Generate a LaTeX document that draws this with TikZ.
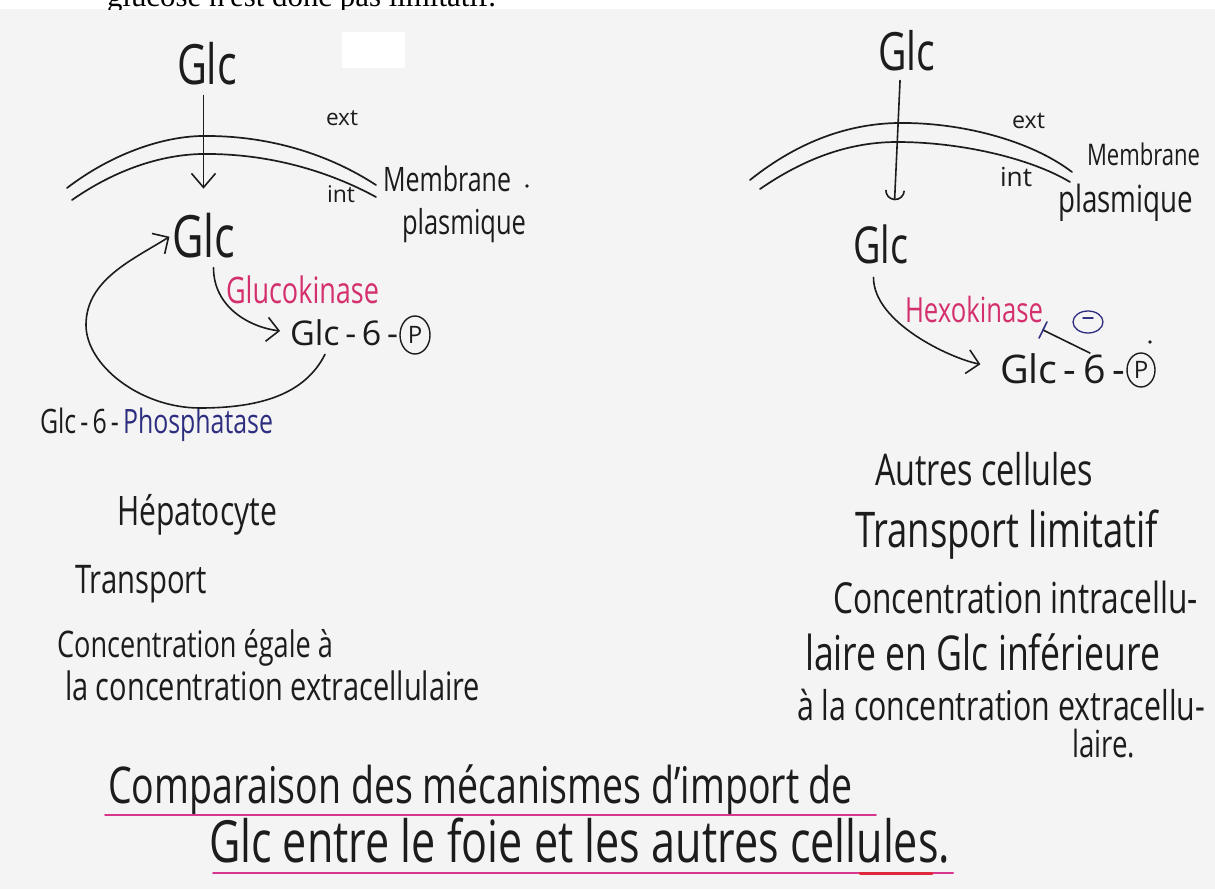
\documentclass[tikz,border=0pt]{standalone}
\usepackage{fontspec}
\usepackage{graphicx}
\setmainfont{Open Sans}
\newfontfamily\printfont{Liberation Serif}
\usetikzlibrary{arrows.meta,shapes.geometric,calc}

\definecolor{paper}{HTML}{F4F4F4}
\definecolor{ink}{HTML}{1C1C1C}
\definecolor{rosy}{HTML}{D4306E}
\definecolor{navyink}{HTML}{2E2E80}
\definecolor{hilite}{HTML}{D8368C}
\definecolor{redmark}{HTML}{E02A3C}

% handwriting-like text: set to a given width (pt), then drawn taller
\newcommand\fitto[2]{\scalebox{1}[1.35]{\resizebox{#1pt}{!}{#2}}}
% plain width fit, no stretch
\newcommand\fitplain[2]{\resizebox{#1pt}{!}{#2}}

\tikzset{
  txt/.style={inner sep=0pt, outer sep=0pt, anchor=base west, text=ink},
  pen/.style={draw=ink, line width=1.6pt, line cap=round, line join=round},
  vhead/.style={pen, -{Straight Barb[length=14pt,width=24pt]}},
  uhead/.style={pen, -{Arc Barb[length=10pt,width=20pt]}},
  chevron/.style={pen, -{Straight Barb[length=12pt,width=24pt]}},
  circP/.style={draw=ink, line width=1.4pt, ellipse, inner sep=0pt,
    font=\fontsize{24}{24}\selectfont, text=ink},
  membrane/.style={draw=ink, line width=1.7pt, line cap=round},
  underline/.style={draw=hilite, line width=1.8pt, line cap=round}
}

\begin{document}
\begin{tikzpicture}[x=1pt,y=-1pt]
\useasboundingbox (0,0) rectangle (1215,889);

% sheet
\fill[white] (0,0) rectangle (1215,889);
\fill[paper] (0,9) rectangle (1215,889);
\fill[white] (342,32) rectangle (405,68);

% last printed line of the previous page, cut at the top
\begin{scope}
  \clip (0,0) rectangle (1215,9);
  \node[txt, text=black, font=\printfont] (prevline) at (107,6)
    {\fitplain{389}{glucose n'est donc pas limitatif.}};
\end{scope}

% ---------------- hepatocyte ----------------
\draw[membrane] (67,188) .. controls (110,155) and (160,137) .. (201,136)
                         .. controls (270,135) and (330,155) .. (376,185);
\draw[membrane] (72,200) .. controls (115,170) and (160,155) .. (201,154)
                         .. controls (270,153) and (330,172) .. (376,197);

\node[txt] (gTopL) at (177,84) {\fitto{60}{Glc}};
\node[txt] (extL) at (326,125) {\fitplain{32}{ext}};
\node[txt] (intL) at (327,202) {\fitplain{28}{int}};
\node[txt] (memL) at (383,191) {\fitto{128}{Membrane}};
\fill[ink] (527,186) circle (1.8);
\node[txt] (plaL) at (402,234) {\fitto{124}{plasmique}};
\node[txt] (gInL) at (172,257) {\fitto{63}{Glc}};
\node[txt, text=rosy] (gkL) at (226,303) {\fitto{153}{Glucokinase}};
\node[txt] (g6L) at (290,345) {\fitplain{108}{Glc\,-\,6\,-}};
\node[circP, minimum width=30pt, minimum height=38pt] (pL) at (415,335) {P};
\node[txt] (g6pase) at (40,433) {\fitto{233}{Glc\,-\,6\,-\,\textcolor{navyink}{Phosphatase}}};

\node[txt] (hep) at (117,525) {\fitto{160}{Hépatocyte}};
\node[txt] (trL) at (75,593) {\fitto{132}{Transport}};
\node[txt] (conL1) at (57,657) {\fitto{276}{Concentration égale à}};
\node[txt] (conL2) at (65,700) {\fitto{415}{la concentration extracellulaire}};

\coordinate (phB) at (200,408);
\coordinate (phL) at (86,325);

% entry through the membrane
\draw[vhead, shorten <=11pt, shorten >=24pt] (gTopL.south -| gInL.north) -- (gInL.north);
% glucokinase
\draw[chevron, shorten >=10pt]
  ($(gInL.south)+(10,10)$) .. controls +(0,40) and +(-40,-5) .. (g6L.west);
% glucose-6-phosphatase loop back to Glc
\draw[chevron, shorten >=3pt]
  ($(g6L.south west)+(35,9)$) .. controls +(-20,40) and +(60,0) .. (phB)
  .. controls +(-60,0) and +(0,40) .. (phL)
  .. controls +(0,-45) and +(-40,25) .. (gInL.west);

% ---------------- other cells ----------------
\draw[membrane] (750,180) .. controls (800,140) and (850,124) .. (897,123)
                          .. controls (960,122) and (1030,140) .. (1072,172);
\draw[membrane] (760,189) .. controls (805,158) and (850,142) .. (897,142)
                          .. controls (960,142) and (1030,158) .. (1070,182);

\node[txt] (gTopR) at (878,70) {\fitto{57}{Glc}};
\node[txt] (extR) at (1012,128) {\fitplain{33}{ext}};
\node[txt] (intR) at (1000,186) {\fitplain{32}{int}};
\node[txt] (memR) at (1087,165) {\fitto{113}{Membrane}};
\node[txt] (plaR) at (1058,212) {\fitto{135}{plasmique}};
\node[txt] (gInR) at (853,263) {\fitto{55}{Glc}};
\node[txt, text=rosy] (hkR) at (905,322) {\fitto{138}{Hexokinase}};
\node[txt] (g6R) at (1000,383) {\fitplain{125}{Glc\,-\,6\,-}};
\node[circP, minimum width=28pt, minimum height=34pt] (pR) at (1141,370) {P};
\fill[ink] (1150,342) circle (1.8);
\node[draw=navyink, line width=1.3pt, ellipse, inner sep=0pt, minimum width=30pt,
      minimum height=22pt, text=navyink, font=\fontsize{26}{26}\selectfont]
      (minusR) at (1088,322) {–};

\node[txt] (autres) at (875,485) {\fitto{218}{Autres cellules}};
\node[txt] (trR) at (855,547) {\fitto{303}{Transport limitatif}};
\node[txt] (conR1) at (833,613) {\fitto{365}{Concentration intracellu-}};
\node[txt] (conR2) at (805,670) {\fitto{355}{laire en Glc inférieure}};
\node[txt] (conR3) at (797,720) {\fitto{408}{à la concentration extracellu-}};
\node[txt] (conR4) at (1072,757) {\fitto{63}{laire.}};

\coordinate (inhB) at (1043,330);

% entry through the membrane
\draw[uhead, shorten <=10pt, shorten >=24pt]
  ([xshift=-6pt]gTopR.south) -- ([xshift=13pt]gInR.north);
% hexokinase
\draw[chevron, shorten >=20pt]
  ($(gInR.south)+(-7,14)$) .. controls +(0,45) and +(-50,-10) .. (g6R.west);
% feedback inhibition by Glc-6-P
\coordinate (inhS) at ($(g6R.north west)+(90,0)$);
\draw[pen] (inhS) -- (inhB);
\draw[draw=navyink, line width=1.6pt, line cap=round]
  ($(inhB)!9pt!90:(inhS)$) -- ($(inhB)!9pt!-90:(inhS)$);

% ---------------- title ----------------
\node[txt] (title1) at (108,803) {\fitto{745}{Comparaison des mécanismes d'import de}};
\node[txt] (title2) at (209,862) {\fitto{741}{Glc entre le foie et les autres cellules.}};
\draw[underline] ($(title1.base west)+(-3,12)$) -- ($(title1.base east)+(23,12)$);
\draw[underline] ($(title2.base west)+(4,11)$) -- ($(title2.base east)+(3,11)$);
\draw[draw=redmark, line width=3pt, line cap=round]
  ($(title2.base east)+(-90,11)$) -- ($(title2.base east)+(-18,11)$);
\end{tikzpicture}
\end{document}
